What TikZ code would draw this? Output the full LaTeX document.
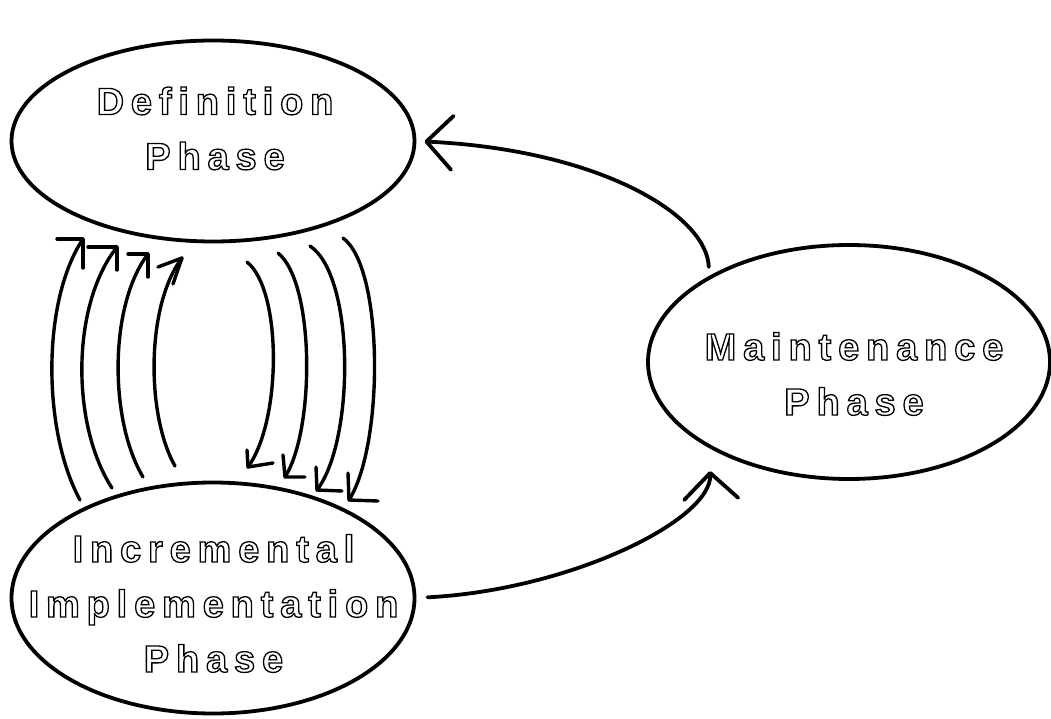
\documentclass[tikz,border=0pt]{standalone}
\usepackage{fontspec}
\setmainfont{Liberation Sans}
\newfontfamily\phfont{Liberation Sans}[LetterSpace=18]
\usetikzlibrary{shapes.geometric,arrows.meta}
\newcommand\outl[1]{\special{pdf:literal direct 1 Tr 1.3 w}#1\special{pdf:literal direct 0 Tr}}
\tikzset{
  phase/.style={ellipse, draw=black, line width=3.8pt, inner sep=0pt, outer sep=0pt},
  txt/.style={align=center, inner sep=0pt, font=\phfont\bfseries\fontsize{38}{55}\selectfont},
  bigarrow/.style={line width=3.8pt, line cap=round, -{Straight Barb[length=26pt,width=54pt,round]}},
  loop/.style={line width=3.4pt, line cap=round, line join=round},
}
\begin{document}
\begin{tikzpicture}[x=1pt,y=-1pt]
\useasboundingbox (0,0) rectangle (1051,719);
% ellipses
\node[phase, minimum width=403pt, minimum height=201pt] (def) at (213,141) {};
\node[phase, minimum width=403pt, minimum height=231pt] (inc) at (213,598) {};
\node[phase, minimum width=402pt, minimum height=234pt] (main) at (849,362) {};
% texts
\node[txt] (deftxt) at (215,128.5) {\outl{Definition}\\\outl{Phase}};
\node[txt] (inctxt) at (213.5,603.5) {\outl{Incremental}\\\outl{Implementation}\\\outl{Phase}};
\node[txt] (maintxt) at (854,374) {\outl{Maintenance}\\\outl{Phase}};
% main connectors
\draw[bigarrow, shorten <=11pt, shorten >=10pt] (main.149.7) .. controls (707,215) and (600,150) .. (def.east);
\draw[bigarrow, shorten <=13pt, shorten >=25pt] (inc.east) .. controls (570,590) and (712,520) .. (main.211.3);
% loop coordinates: up arcs
\coordinate (u1b) at (80,500);  \coordinate (u1t) at (83,239);
\coordinate (u2b) at (112,488); \coordinate (u2t) at (117,247);
\coordinate (u3b) at (143,477); \coordinate (u3t) at (148,254);
\coordinate (u4b) at (175,466); \coordinate (u4t) at (182,258);
% down arcs
\coordinate (d1t) at (247,262); \coordinate (d1b) at (248,467);
\coordinate (d2t) at (278,253); \coordinate (d2b) at (285,477);
\coordinate (d3t) at (310,246); \coordinate (d3b) at (317,490);
\coordinate (d4t) at (343,238); \coordinate (d4b) at (349,500);
% up arcs
\draw[loop] (u1b) .. controls (42,430) and (42,300) .. (u1t);
\draw[loop] (57,239) -- (u1t) -- (83,268);
\draw[loop] (u2b) .. controls (71,425) and (71,305) .. (u2t);
\draw[loop] (88,247) -- (u2t) -- (117,270);
\draw[loop] (u3b) .. controls (109,420) and (109,305) .. (u3t);
\draw[loop] (128,254) -- (u3t) -- (148,277);
\draw[loop] (u4b) .. controls (146,415) and (146,305) .. (u4t);
\draw[loop] (158,267) -- (u4t) -- (173,284);
% down arcs
\draw[loop] (d1t) .. controls (282,290) and (282,420) .. (d1b);
\draw[loop] (247,450) -- (d1b) -- (273,463);
\draw[loop] (d2t) .. controls (315,283) and (315,430) .. (d2b);
\draw[loop] (283,455) -- (d2b) -- (305,477);
\draw[loop] (d3t) .. controls (355,276) and (355,440) .. (d3b);
\draw[loop] (316,467) -- (d3b) -- (342,491);
\draw[loop] (d4t) .. controls (384,268) and (384,445) .. (d4b);
\draw[loop] (348,473) -- (d4b) -- (378,501);
\end{tikzpicture}
\end{document}
